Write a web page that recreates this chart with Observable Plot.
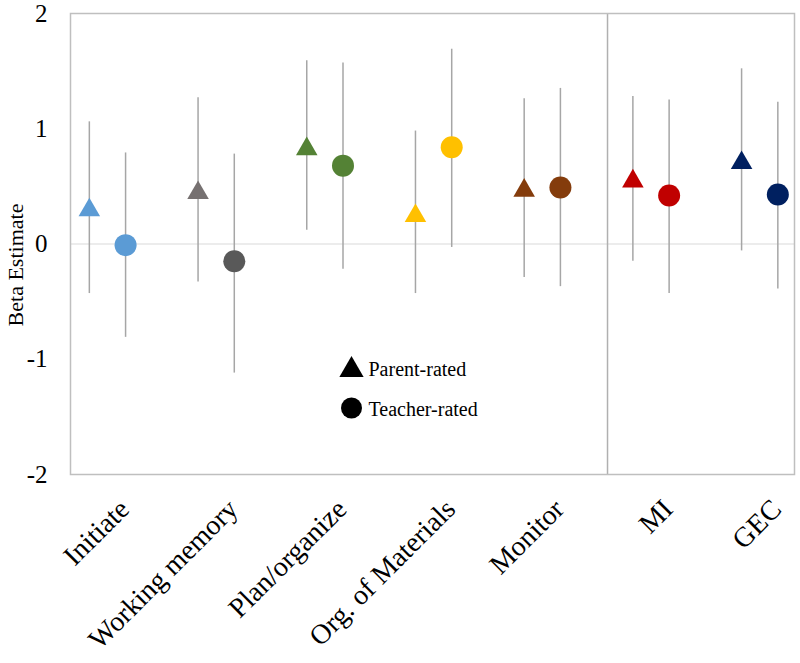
<!DOCTYPE html>
<html>
<head>
<meta charset="utf-8">
<script src="https://cdn.jsdelivr.net/npm/d3@7"></script>
<script src="https://cdn.jsdelivr.net/npm/@observablehq/plot@0.6"></script>
<style>
  html, body { margin: 0; padding: 0; background: #fff; }
  svg text { font-family: "Liberation Serif", serif !important; font-variant: normal !important; }
</style>
</head>
<body>
<div id="chart"></div>
<script>
const categories = ["Initiate", "Working memory", "Plan/organize", "Org. of Materials", "Monitor", "MI", "GEC"];
const parentBeta = [0.32, 0.47, 0.85, 0.27, 0.49, 0.57, 0.73];
const parentLow  = [-0.43, -0.33, 0.12, -0.43, -0.29, -0.15, -0.06];
const parentHigh = [1.06, 1.27, 1.59, 0.98, 1.26, 1.28, 1.52];
const teacherBeta = [-0.01, -0.15, 0.68, 0.84, 0.49, 0.42, 0.43];
const teacherLow  = [-0.81, -1.12, -0.22, -0.03, -0.37, -0.43, -0.39];
const teacherHigh = [0.79, 0.78, 1.57, 1.69, 1.35, 1.25, 1.23];
const parentColors  = ["#5b9bd5", "#767171", "#548235", "#ffc000", "#843c0c", "#c00000", "#002060"];
const teacherColors = ["#5b9bd5", "#595959", "#548235", "#ffc000", "#843c0c", "#c00000", "#002060"];
const yTicks = [-2, -1, 0, 1, 2];
const separatorAfter = 4.6; // vertical divider between subscales and indices
const legendLabels = ["Parent-rated", "Teacher-rated"];
const yLabel = "Beta Estimate";

const off = 1 / 6;
const parent = categories.map((c, i) => ({i, x: i - off, y: parentBeta[i], lo: parentLow[i], hi: parentHigh[i], color: parentColors[i]}));
const teacher = categories.map((c, i) => ({i, x: i + off, y: teacherBeta[i], lo: teacherLow[i], hi: teacherHigh[i], color: teacherColors[i]}));

const font = "Liberation Serif";

const chart = Plot.plot({
  width: 800,
  height: 663,
  marginLeft: 70,
  marginRight: 6,
  marginTop: 13,
  marginBottom: 189,
  style: {fontFamily: font, color: "#000", background: "#fff"},
  x: {domain: [-0.34, 6.32]},
  y: {domain: [-2, 2]},
  marks: [
    Plot.ruleY([0], {stroke: "#d9d9d9", strokeWidth: 1.2}),
    Plot.ruleX([separatorAfter], {stroke: "#b0b0b0", strokeWidth: 1.5}),
    Plot.frame({stroke: "#bfbfbf", strokeWidth: 1.5}),
    Plot.ruleX(parent, {x: "x", y1: "lo", y2: "hi", stroke: "#a6a6a6", strokeWidth: 1.5}),
    Plot.ruleX(teacher, {x: "x", y1: "lo", y2: "hi", stroke: "#a6a6a6", strokeWidth: 1.5}),
    Plot.dot(parent, {x: "x", y: "y", symbol: "triangle", r: 8, fill: d => d.color, stroke: "none", dy: 3}),
    Plot.dot(teacher, {x: "x", y: "y", symbol: "circle", r: 11, fill: d => d.color, stroke: "none"}),
    // legend
    Plot.dot([legendLabels[0]], {frameAnchor: "top-left", dx: 281, dy: 356.5, symbol: "triangle", r: 9, fill: "#000"}),
    Plot.dot([legendLabels[1]], {frameAnchor: "top-left", dx: 281, dy: 394.5, symbol: "circle", r: 10.5, fill: "#000"}),
    Plot.text([legendLabels[0]], {frameAnchor: "top-left", dx: 298, dy: 356, text: d => d, textAnchor: "start", lineAnchor: "middle", fontSize: 20, fill: "#000"}),
    Plot.text([legendLabels[1]], {frameAnchor: "top-left", dx: 298, dy: 396, text: d => d, textAnchor: "start", lineAnchor: "middle", fontSize: 20, fill: "#000"}),
    // y axis
    Plot.axisY(yTicks, {tickSize: 0, tickPadding: 23, fontSize: 25, label: null, fill: "#000", tickFormat: d => String(d)}),
    Plot.text([yLabel], {frameAnchor: "left", dx: -55, dy: 21, rotate: -90, text: d => d, textAnchor: "middle", lineAnchor: "middle", fontSize: 22, fill: "#000"}),
    // x axis
    Plot.axisX(d3.range(categories.length), {
      tickSize: 0, tickPadding: 30, dx: 17, tickRotate: -45, fontSize: 28, label: null,
      tickFormat: i => categories[i], fill: "#000"
    })
  ]
});
document.getElementById("chart").appendChild(chart);
</script>
</body>
</html>
